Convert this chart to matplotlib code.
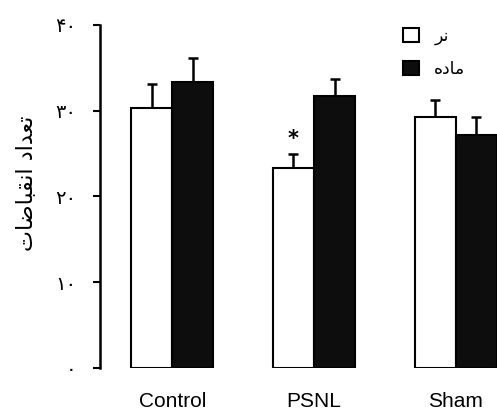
import matplotlib.pyplot as plt
from matplotlib.patches import Patch
import numpy as np

plt.rcParams['font.family'] = ['DejaVu Sans']

# Data
groups = ["Control", "PSNL", "Sham"]
male = [30.3, 23.3, 29.3]
male_err = [2.8, 1.6, 2.0]
female = [33.4, 31.7, 27.2]
female_err = [2.7, 2.0, 2.1]
yticks = [0, 10, 20, 30, 40]
ytick_labels = ["\u06f0", "\u06f1\u06f0", "\u06f2\u06f0", "\u06f3\u06f0", "\u06f4\u06f0"]

# Persian text written in shaped presentation forms (visual order)
ylabel_text = "\ufe95\ufe8e\ufebf\ufe8e\ufe92\ufed8\ufee7\ufe8d \ufea9\ufe8d\ufeaa\ufecc\ufe97"   # تعداد انقباضات
male_label = "\ufeae\ufee7"                      # نر
female_label = "\ufee9\ufea9\ufe8e\ufee3"        # ماده

fig = plt.figure(figsize=(4.97, 4.12), dpi=100)
ax = fig.add_axes([0.201, 0.107, 0.799, 0.8325])

x = np.arange(len(groups))
w = 0.29

ax.bar(x - w / 2, male, w, color="white", edgecolor="black", linewidth=1.5, zorder=2)
ax.bar(x + w / 2, female, w, color="#0d0d0d", edgecolor="black", linewidth=1.5, zorder=2)

# upward-only error bars (drop the lower caps)
for xs, vals, errs in [(x - w / 2, male, male_err), (x + w / 2, female, female_err)]:
    _, caps, _ = ax.errorbar(xs, vals, yerr=[np.zeros(3), errs], fmt="none",
                             ecolor="black", elinewidth=1.8, capsize=3.5,
                             capthick=1.8, zorder=1)
    caps[0].set_visible(False)

# significance mark on PSNL male
ax.text(x[1] - w / 2, male[1] + male_err[1] + 0.6, "*", ha="center", va="bottom",
        fontsize=15, fontweight="bold")

ax.set_xlim(-0.51, 2.29)
ax.set_ylim(0, 40)
ax.set_yticks(yticks)
ax.set_yticklabels(ytick_labels, fontsize=14)
ax.set_xticks(x)
ax.set_xticklabels(groups, fontsize=15, family="Liberation Sans")
ax.tick_params(axis="x", length=0, pad=17)
ax.tick_params(axis="y", length=5, width=1.5, pad=12)

for s in ["top", "right", "bottom"]:
    ax.spines[s].set_visible(False)
ax.spines["left"].set_linewidth(1.8)

fig.text(0.055, 0.555, ylabel_text, rotation=90, ha="center", va="center", fontsize=16)

handles = [Patch(facecolor="white", edgecolor="black", linewidth=1.5),
           Patch(facecolor="#0d0d0d", edgecolor="black", linewidth=1.5)]
ax.legend(handles, [male_label, female_label], loc="upper left",
          bbox_to_anchor=(0.811, 0.935), bbox_transform=fig.transFigure,
          borderaxespad=0, borderpad=0, frameon=False, fontsize=12.5,
          handlelength=0.9, handleheight=0.9, handletextpad=0.9, labelspacing=0.85)

plt.savefig("out.png", dpi=100)
